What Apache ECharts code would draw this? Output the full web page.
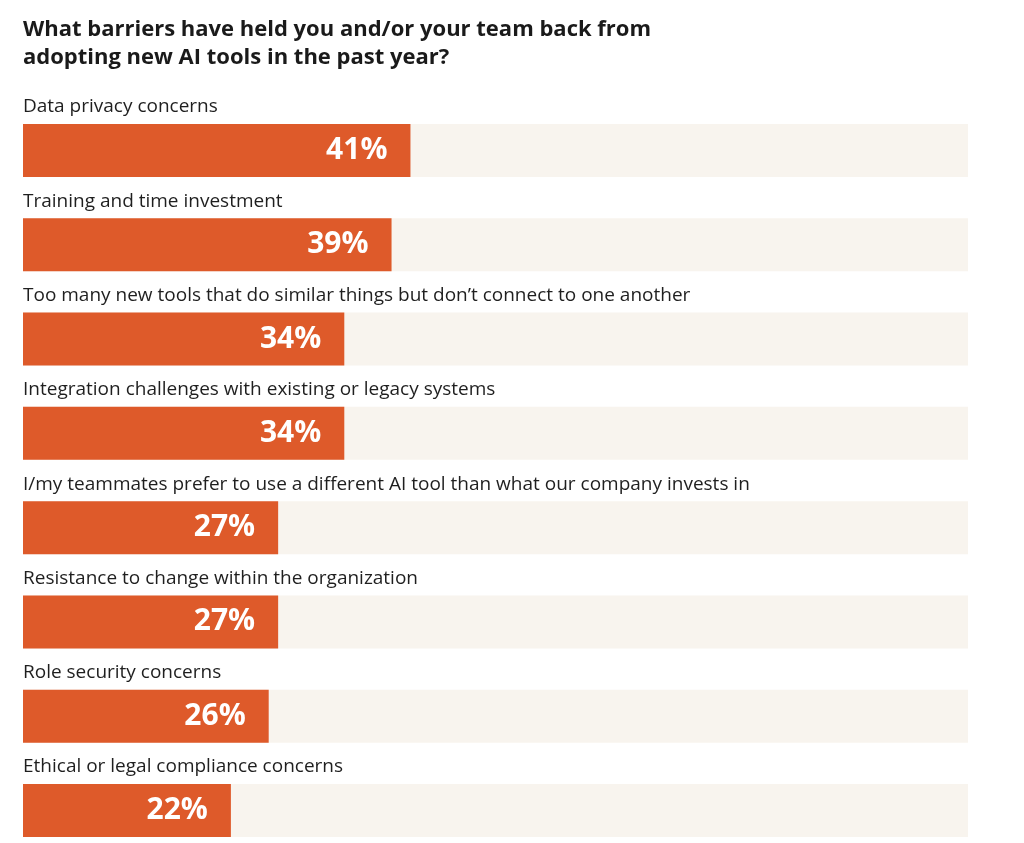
<!DOCTYPE html>
<html lang="en">
<head>
    <meta charset="UTF-8">
    <title>AI tool barriers</title>
    <script src="https://cdn.jsdelivr.net/npm/echarts@6/dist/echarts.min.js"></script>
    <style>
        html, body { margin: 0; padding: 0; background: #ffffff; }
    </style>
</head>
<body>
<div id="bars" style="width: 1024px;height: 843px;"></div>
<script>
    var categories = [
        'Data privacy concerns',
        'Training and time investment',
        'Too many new tools that do similar things but don\u2019t connect to one another',
        'Integration challenges with existing or legacy systems',
        'I/my teammates prefer to use a different AI tool than what our company invests in',
        'Resistance to change within the organization',
        'Role security concerns',
        'Ethical or legal compliance concerns'
    ];
    var values = [41, 39, 34, 34, 27, 27, 26, 22];
    var trackValues = [100, 100, 100, 100, 100, 100, 100, 100];

    var fontName = '"Open Sans", "Noto Sans", sans-serif';
    var myChart = echarts.init(document.getElementById('bars'));
    var option = {
        backgroundColor: '#ffffff',
        animation: false,
        title: {
            text: 'What barriers have held you and/or your team back from\nadopting new AI tools in the past year?',
            left: 23,
            top: 16,
            padding: 0,
            textStyle: {
                fontFamily: fontName,
                fontSize: 22,
                fontWeight: 'bold',
                lineHeight: 28,
                color: '#1a1a1a'
            }
        },
        // boundaryGap 关掉后，第一根和最后一根条形的中心就在 grid 上下边
        grid: {
            left: 23,
            right: 56,
            top: 150.5,
            bottom: 32.5
        },
        xAxis: {
            type: 'value',
            min: 0,
            max: 100,
            show: false
        },
        yAxis: {
            type: 'category',
            inverse: true,
            boundaryGap: false,
            data: categories,
            show: false
        },
        series: [{
            // 背景条 + 类目文字
            type: 'bar',
            data: trackValues,
            barWidth: 53,
            barGap: '-100%',
            silent: true,
            itemStyle: { color: '#f8f4ee' },
            label: {
                show: true,
                position: [0, -17],
                align: 'left',
                verticalAlign: 'middle',
                formatter: function (p) { return categories[p.dataIndex]; },
                fontFamily: fontName,
                fontSize: 19,
                color: '#1f1f1f'
            },
            z: 1
        }, {
            type: 'bar',
            data: values,
            barWidth: 53,
            itemStyle: { color: '#de5a2a' },
            label: {
                show: true,
                position: 'insideRight',
                distance: 23,
                formatter: '{c}%',
                fontFamily: fontName,
                fontSize: 30,
                fontWeight: 'bold',
                color: '#ffffff'
            },
            z: 2
        }]
    };
    myChart.setOption(option);
</script>
</body>
</html>
